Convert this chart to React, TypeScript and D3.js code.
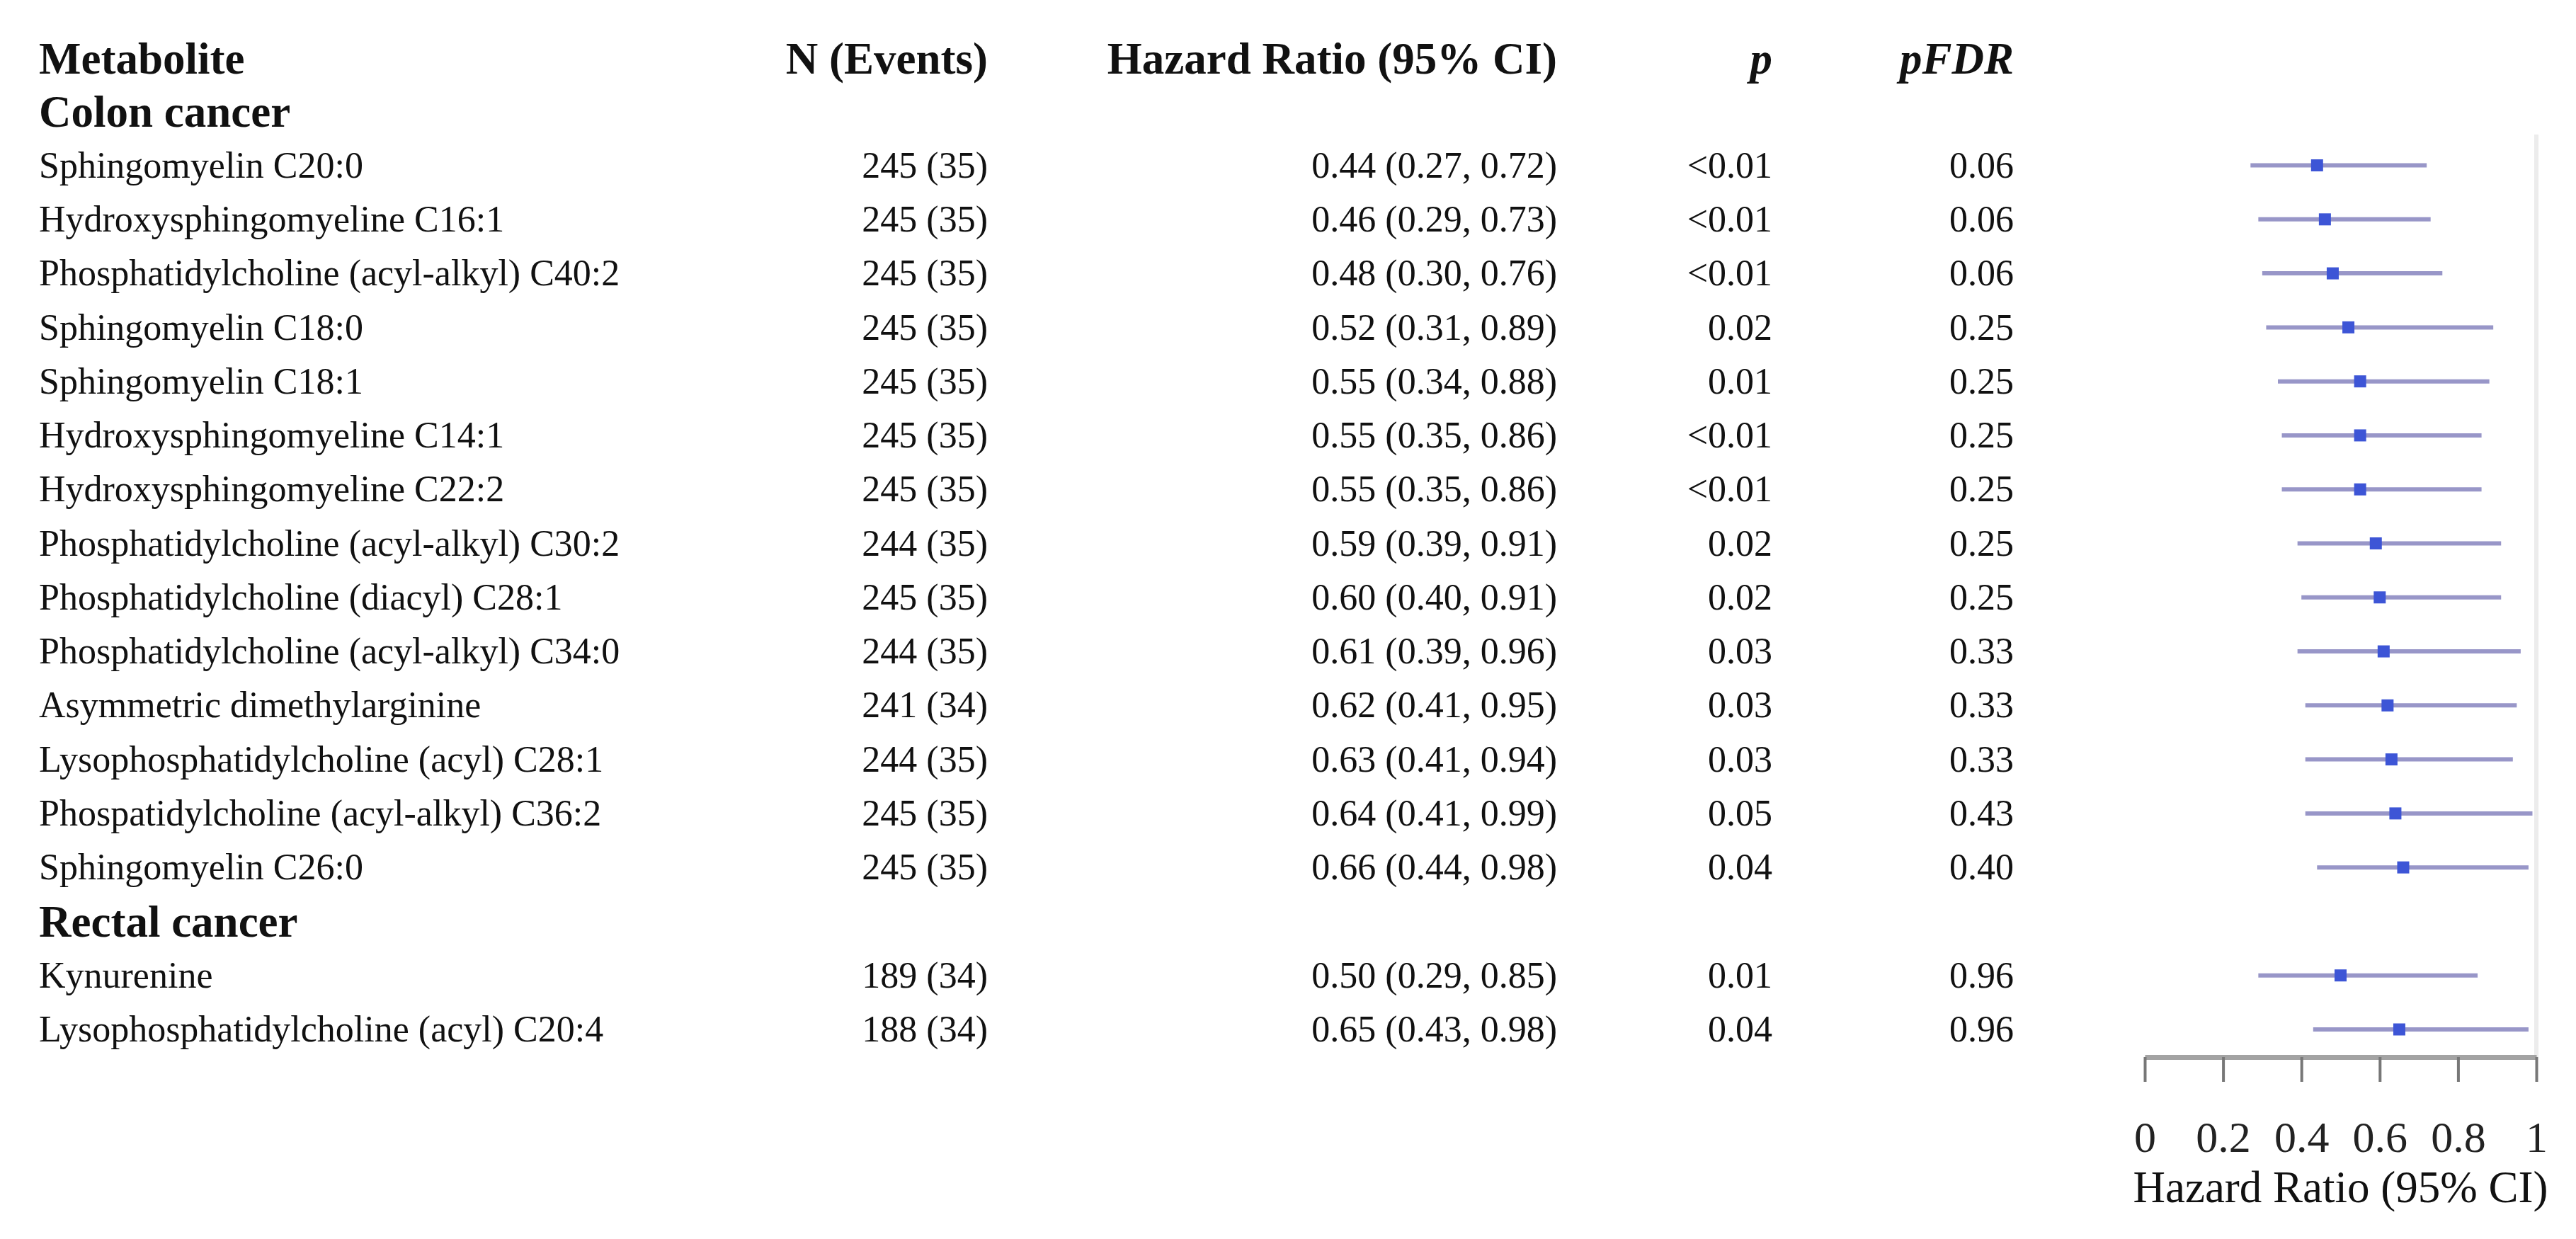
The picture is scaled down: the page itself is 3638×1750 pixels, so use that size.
import React, { useEffect, useRef } from "react";
import * as d3 from "d3";

const groups = ["Colon cancer", "Rectal cancer"];

const metabolites = [
  "Sphingomyelin C20:0",
  "Hydroxysphingomyeline C16:1",
  "Phosphatidylcholine (acyl-alkyl) C40:2",
  "Sphingomyelin C18:0",
  "Sphingomyelin C18:1",
  "Hydroxysphingomyeline C14:1",
  "Hydroxysphingomyeline C22:2",
  "Phosphatidylcholine (acyl-alkyl) C30:2",
  "Phosphatidylcholine (diacyl) C28:1",
  "Phosphatidylcholine (acyl-alkyl) C34:0",
  "Asymmetric dimethylarginine",
  "Lysophosphatidylcholine (acyl) C28:1",
  "Phospatidylcholine (acyl-alkyl) C36:2",
  "Sphingomyelin C26:0",
  "Kynurenine",
  "Lysophosphatidylcholine (acyl) C20:4",
];
const metaboliteGroup = [0, 0, 0, 0, 0, 0, 0, 0, 0, 0, 0, 0, 0, 0, 1, 1];

const nTotal = [245, 245, 245, 245, 245, 245, 245, 244, 245, 244, 241, 244, 245, 245, 189, 188];
const nEvents = [35, 35, 35, 35, 35, 35, 35, 35, 35, 35, 34, 35, 35, 35, 34, 34];

const hazardRatio = [0.44, 0.46, 0.48, 0.52, 0.55, 0.55, 0.55, 0.59, 0.6, 0.61, 0.62, 0.63, 0.64, 0.66, 0.5, 0.65];
const ciLower = [0.27, 0.29, 0.3, 0.31, 0.34, 0.35, 0.35, 0.39, 0.4, 0.39, 0.41, 0.41, 0.41, 0.44, 0.29, 0.43];
const ciUpper = [0.72, 0.73, 0.76, 0.89, 0.88, 0.86, 0.86, 0.91, 0.91, 0.96, 0.95, 0.94, 0.99, 0.98, 0.85, 0.98];

const pValues = ["<0.01", "<0.01", "<0.01", "0.02", "0.01", "<0.01", "<0.01", "0.02", "0.02", "0.03", "0.03", "0.03", "0.05", "0.04", "0.01", "0.04"];
const pFdr = ["0.06", "0.06", "0.06", "0.25", "0.25", "0.25", "0.25", "0.25", "0.25", "0.33", "0.33", "0.33", "0.43", "0.40", "0.96", "0.96"];

const xTicks = [0, 0.2, 0.4, 0.6, 0.8, 1];

const FONT = "'Liberation Serif', 'Times New Roman', serif";

export default function App() {
  const axisRef = useRef<SVGGElement>(null);

  const width = 3638;
  const height = 1750;

  // column anchors (right-aligned except the name column)
  const nameX = 55;
  const nX = 1395;
  const hrX = 2199;
  const pX = 2503;
  const fdrX = 2844;
  const axisY = 1493;

  // build row list: header row, then group title + members
  const rows: { kind: string; label?: string; i?: number }[] = [{ kind: "header" }];
  groups.forEach((g, gi) => {
    rows.push({ kind: "group", label: g });
    metabolites.forEach((m, i) => {
      if (metaboliteGroup[i] === gi) rows.push({ kind: "item", i });
    });
  });

  const y = d3
    .scalePoint<number>()
    .domain(d3.range(rows.length))
    .range([81, 1454]);

  const x = d3.scaleLinear().domain([0, 1]).range([3029, 3582]);

  useEffect(() => {
    const g = d3.select(axisRef.current);
    g.selectAll("*").remove();
    g.call(
      d3
        .axisBottom(x)
        .tickValues(xTicks)
        .tickSize(35)
        .tickSizeOuter(0)
        .tickFormat(d3.format("~g") as any)
    );
    g.select(".domain").attr("stroke", "#a3a3a3").attr("stroke-width", 7);
    g.selectAll(".tick line").attr("stroke", "#777").attr("stroke-width", 4);
    g.selectAll(".tick text")
      .attr("y", 134)
      .attr("dy", 0)
      .attr("fill", "#222")
      .attr("font-size", 62)
      .attr("font-family", FONT);
  }, []);

  const fmt = d3.format(".2f");
  const rowFont = 52;
  const headFont = 63;

  return (
    <svg
      width={width}
      height={height}
      viewBox={`0 0 ${width} ${height}`}
      style={{ position: "absolute", left: 0, top: 0, display: "block", background: "#fff" }}
      fontFamily={FONT}
    >
      {/* reference line at HR = 1 */}
      <line x1={x(1)} x2={x(1)} y1={190} y2={axisY} stroke="#ececec" strokeWidth={6} />

      {rows.map((r, k) => {
        const cy = y(k) as number;
        if (r.kind === "header") {
          return (
            <g key={k} fontWeight="bold" fontSize={headFont} fill="#111">
              <text x={nameX} y={cy} dy="0.36em">Metabolite</text>
              <text x={nX} y={cy} dy="0.36em" textAnchor="end">N (Events)</text>
              <text x={hrX} y={cy} dy="0.36em" textAnchor="end">Hazard Ratio (95% CI)</text>
              <text x={pX} y={cy} dy="0.36em" textAnchor="end" fontStyle="italic">p</text>
              <text x={fdrX} y={cy} dy="0.36em" textAnchor="end" fontStyle="italic">pFDR</text>
            </g>
          );
        }
        if (r.kind === "group") {
          return (
            <text key={k} x={nameX} y={cy} dy="0.34em" fontWeight="bold" fontSize={headFont} fill="#111">
              {r.label}
            </text>
          );
        }
        const i = r.i as number;
        return (
          <g key={k} fontSize={rowFont} fill="#111">
            <text x={nameX} y={cy} dy="0.33em">{metabolites[i]}</text>
            <text x={nX} y={cy} dy="0.33em" textAnchor="end">{`${nTotal[i]} (${nEvents[i]})`}</text>
            <text x={hrX} y={cy} dy="0.33em" textAnchor="end">
              {`${fmt(hazardRatio[i])} (${fmt(ciLower[i])}, ${fmt(ciUpper[i])})`}
            </text>
            <text x={pX} y={cy} dy="0.33em" textAnchor="end">{pValues[i]}</text>
            <text x={fdrX} y={cy} dy="0.33em" textAnchor="end">{pFdr[i]}</text>
            <line x1={x(ciLower[i])} x2={x(ciUpper[i])} y1={cy} y2={cy} stroke="#9896c8" strokeWidth={6} />
            <rect x={x(hazardRatio[i]) - 8.5} y={cy - 8.5} width={17} height={17} fill="#3d55d6" />
          </g>
        );
      })}

      <g ref={axisRef} transform={`translate(0,${axisY})`} />

      <text x={x(0.5)} y={1698} textAnchor="middle" fontSize={63} fill="#111">
        Hazard Ratio (95% CI)
      </text>
    </svg>
  );
}
